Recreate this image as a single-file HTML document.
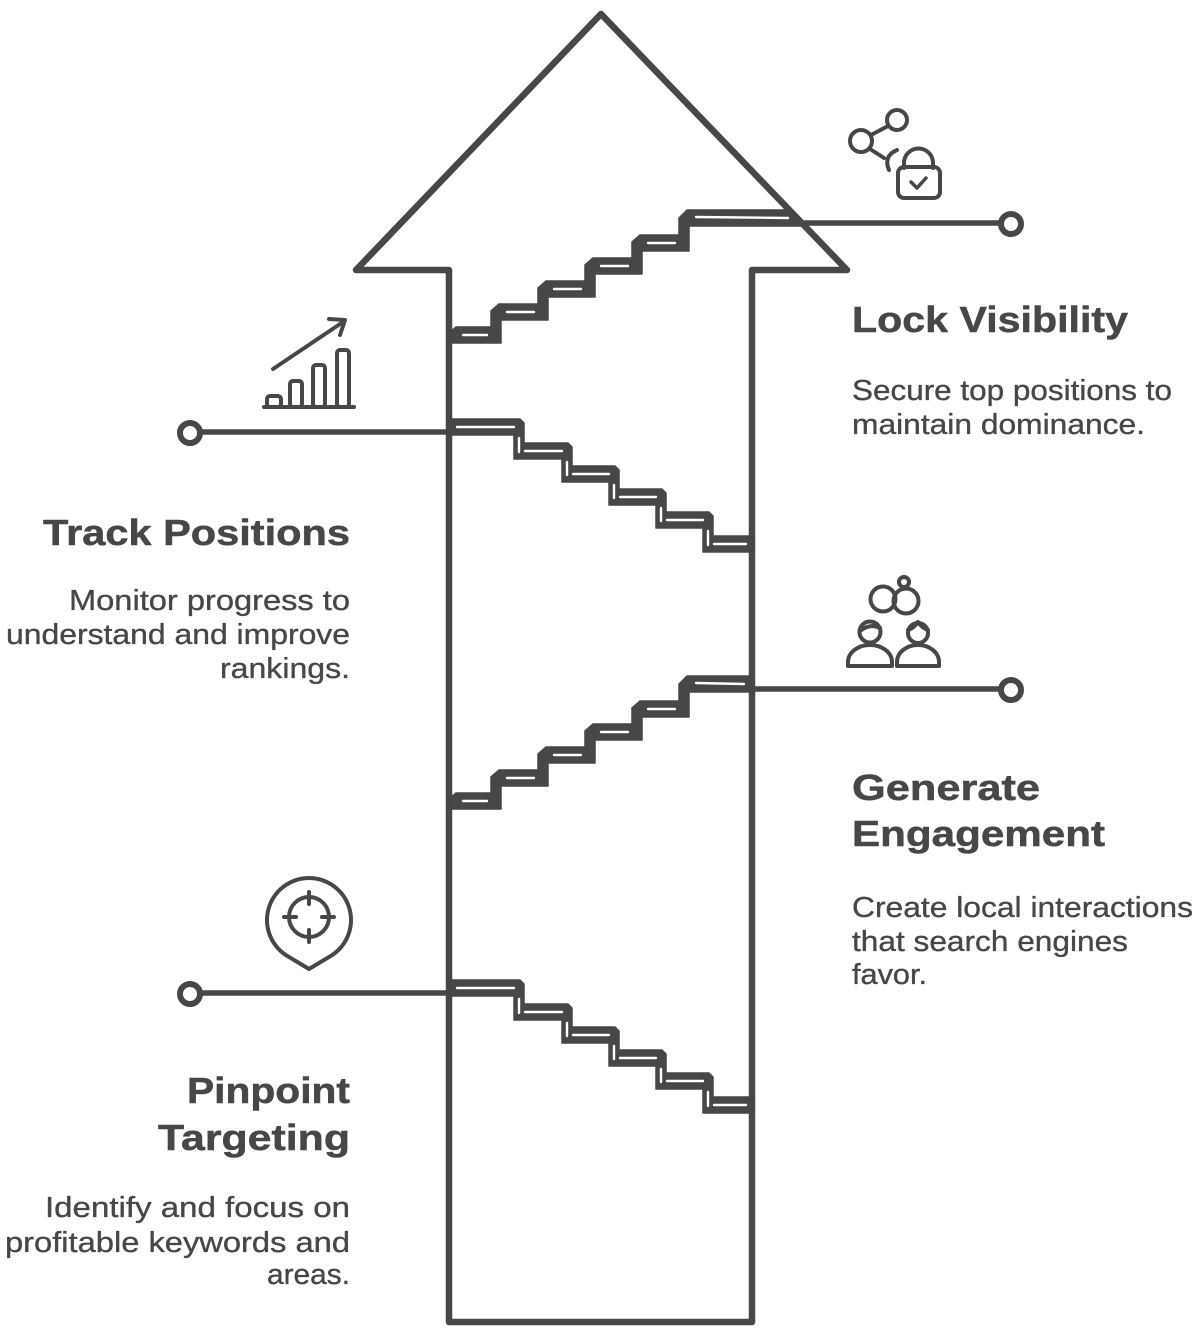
<!DOCTYPE html>
<html>
<head>
<meta charset="utf-8">
<style>
  html, body { margin: 0; padding: 0; background: #ffffff; }
  body { width: 1200px; height: 1329px; overflow: hidden; }
  svg { display: block; }
  .t { font-family: "Liberation Sans", sans-serif; font-weight: bold; font-size: 36px; fill: #474747; stroke: #474747; stroke-width: 0.5px; }
  .b { font-family: "Liberation Sans", sans-serif; font-size: 29px; fill: #474747; stroke: #474747; stroke-width: 0.35px; }
</style>
</head>
<body>
<svg width="1200" height="1329" viewBox="0 0 1200 1329" xmlns="http://www.w3.org/2000/svg">
  <rect x="0" y="0" width="1200" height="1329" fill="#ffffff"/>

  <!-- Arrow outline -->
  <polygon points="449,1322 449,270 356,270 601,14 847,270 752,270 752,1322"
           fill="none" stroke="#474747" stroke-width="6.5" stroke-linejoin="round"/>

  <!-- Connectors -->
  <g stroke="#474747" stroke-width="5.5" stroke-linecap="round" fill="none">
    <line x1="700" y1="223" x2="1000" y2="223"/>
    <line x1="740" y1="689" x2="1000" y2="689"/>
    <line x1="201" y1="432" x2="470" y2="432"/>
    <line x1="201" y1="993" x2="470" y2="993"/>
  </g>
  <g stroke="#474747" stroke-width="6" fill="#ffffff">
    <circle cx="1011" cy="224" r="10"/>
    <circle cx="1011" cy="690" r="10"/>
    <circle cx="190" cy="433" r="10"/>
    <circle cx="190" cy="994" r="10"/>
  </g>

  <!-- Stair set 1 (ascending, top) -->
  <g>
    <polygon fill="#474747" stroke="#474747" stroke-width="1.5" stroke-linejoin="round"
      points="449,333 456,327 491,327 491,311 499,304 538,304 538,288 546,281 585,281 585,265 593,258 632,258 632,242 640,235 679,235 679,218 687,210 790,210 806,226 689,226 689,251 642,251 642,274 595,274 595,297 548,297 548,320 501,320 501,343 449,343"/>
    <g stroke="#ffffff" stroke-width="2.4" stroke-linecap="round">
      <line x1="463" y1="335" x2="487" y2="335"/>
      <line x1="507" y1="312" x2="534" y2="312"/>
      <line x1="554" y1="289" x2="581" y2="289"/>
      <line x1="601" y1="266" x2="628" y2="266"/>
      <line x1="648" y1="243" x2="675" y2="243"/>
      <line x1="696" y1="217" x2="788" y2="218"/>
    </g>
  </g>

  <!-- Stair set 3 (ascending, middle) -->
  <g transform="translate(0,466)">
    <polygon fill="#474747" stroke="#474747" stroke-width="1.5" stroke-linejoin="round"
      points="449,333 456,327 491,327 491,311 499,304 538,304 538,288 546,281 585,281 585,265 593,258 632,258 632,242 640,235 679,235 679,218 687,210 752,210 752,226 689,226 689,251 642,251 642,274 595,274 595,297 548,297 548,320 501,320 501,343 449,343"/>
    <g stroke="#ffffff" stroke-width="2.4" stroke-linecap="round">
      <line x1="463" y1="335" x2="487" y2="335"/>
      <line x1="507" y1="312" x2="534" y2="312"/>
      <line x1="554" y1="289" x2="581" y2="289"/>
      <line x1="601" y1="266" x2="628" y2="266"/>
      <line x1="648" y1="243" x2="675" y2="243"/>
      <line x1="696" y1="217" x2="744" y2="218"/>
    </g>
  </g>

  <!-- Stair set 2 (descending) -->
  <g>
    <polygon fill="#474747" stroke="#474747" stroke-width="1.5" stroke-linejoin="round"
      points="449,419 520,419 524,423 524,443 568,443 572,447 572,466 615,466 619,470 619,489 662,489 666,493 666,512 709,512 713,516 713,536 752,536 752,552 703,552 703,528 656,528 656,505 609,505 609,482 562,482 562,459 514,459 514,435 449,435"/>
    <g stroke="#ffffff" stroke-width="2.4" stroke-linecap="round">
      <line x1="457" y1="427" x2="514" y2="427"/>
      <line x1="525" y1="451" x2="562" y2="451"/>
      <line x1="573" y1="474" x2="609" y2="474"/>
      <line x1="620" y1="497" x2="656" y2="497"/>
      <line x1="667" y1="520" x2="703" y2="520"/>
      <line x1="714" y1="544" x2="746" y2="544"/>
      <line x1="519" y1="438" x2="519" y2="452"/>
      <line x1="567" y1="462" x2="567" y2="475"/>
      <line x1="614" y1="485" x2="614" y2="498"/>
      <line x1="661" y1="508" x2="661" y2="521"/>
      <line x1="708" y1="531" x2="708" y2="545"/>
    </g>
  </g>

  <!-- Stair set 4 (descending, bottom) -->
  <g transform="translate(0,561)">
    <polygon fill="#474747" stroke="#474747" stroke-width="1.5" stroke-linejoin="round"
      points="449,419 520,419 524,423 524,443 568,443 572,447 572,466 615,466 619,470 619,489 662,489 666,493 666,512 709,512 713,516 713,536 752,536 752,552 703,552 703,528 656,528 656,505 609,505 609,482 562,482 562,459 514,459 514,435 449,435"/>
    <g stroke="#ffffff" stroke-width="2.4" stroke-linecap="round">
      <line x1="457" y1="427" x2="514" y2="427"/>
      <line x1="525" y1="451" x2="562" y2="451"/>
      <line x1="573" y1="474" x2="609" y2="474"/>
      <line x1="620" y1="497" x2="656" y2="497"/>
      <line x1="667" y1="520" x2="703" y2="520"/>
      <line x1="714" y1="544" x2="746" y2="544"/>
      <line x1="519" y1="438" x2="519" y2="452"/>
      <line x1="567" y1="462" x2="567" y2="475"/>
      <line x1="614" y1="485" x2="614" y2="498"/>
      <line x1="661" y1="508" x2="661" y2="521"/>
      <line x1="708" y1="531" x2="708" y2="545"/>
    </g>
  </g>

  <!-- Icons -->
  <g fill="none" stroke="#474747" stroke-width="4" stroke-linecap="round" stroke-linejoin="round">
    <!-- share + lock -->
    <circle cx="897" cy="120" r="10"/>
    <circle cx="861" cy="141" r="11"/>
    <line x1="871" y1="135" x2="888" y2="126"/>
    <line x1="870" y1="149" x2="884" y2="158"/>
    <path d="M 897 150 Q 883 156 889 170"/>
    <path d="M 904 168 L 904 163 A 14.5 14.5 0 0 1 933 163 L 933 168"/>
    <rect x="898" y="167" width="42" height="31" rx="6"/>
    <path d="M 911 182 L 917 188 L 926 178" stroke-width="3.5"/>

    <!-- chart -->
    <line x1="264" y1="407" x2="354" y2="407"/>
    <rect x="267" y="396" width="14" height="11" rx="3"/>
    <rect x="290" y="381" width="12" height="26" rx="3"/>
    <rect x="313" y="365" width="12" height="42" rx="3"/>
    <rect x="337" y="350" width="12" height="57" rx="3"/>
    <line x1="273" y1="369" x2="343" y2="322"/>
    <path d="M 329 319 L 345 320 L 340 335"/>

    <!-- rings + people -->
    <circle cx="883" cy="599" r="12.5"/>
    <circle cx="906" cy="601" r="12.5"/>
    <circle cx="904" cy="582" r="5"/>
    <circle cx="870" cy="632" r="10.5"/>
    <path d="M 860 631 Q 870 623 880 628"/>
    <path d="M 848 666 L 848 662 A 22 17 0 0 1 892 662 L 892 666 Z"/>
    <circle cx="918" cy="633" r="10"/>
    <path d="M 908 630 Q 914 628 918 622 Q 922 628 928 630"/>
    <path d="M 897 666 L 897 662 A 21 17 0 0 1 939 662 L 939 666 Z"/>

    <!-- pin target -->
    <path d="M 309 969 L 286.2 955.3 A 42 42 0 1 1 331.8 955.3 Z"/>
    <circle cx="309" cy="917" r="20"/>
    <line x1="309" y1="892" x2="309" y2="904"/>
    <line x1="309" y1="930" x2="309" y2="942"/>
    <line x1="284" y1="917" x2="296" y2="917"/>
    <line x1="322" y1="917" x2="334" y2="917"/>
  </g>

  <!-- Text: right side -->
  <text class="t" x="852" y="332" textLength="276" lengthAdjust="spacingAndGlyphs">Lock Visibility</text>
  <text class="b" x="852" y="400" textLength="320" lengthAdjust="spacingAndGlyphs">Secure top positions to</text>
  <text class="b" x="852" y="434" textLength="293" lengthAdjust="spacingAndGlyphs">maintain dominance.</text>

  <text class="t" x="852" y="800" textLength="188" lengthAdjust="spacingAndGlyphs">Generate</text>
  <text class="t" x="852" y="846" textLength="253" lengthAdjust="spacingAndGlyphs">Engagement</text>
  <text class="b" x="852" y="917" textLength="341" lengthAdjust="spacingAndGlyphs">Create local interactions</text>
  <text class="b" x="852" y="951" textLength="276" lengthAdjust="spacingAndGlyphs">that search engines</text>
  <text class="b" x="852" y="984" textLength="75" lengthAdjust="spacingAndGlyphs">favor.</text>

  <!-- Text: left side -->
  <text class="t" x="43" y="545" textLength="307" lengthAdjust="spacingAndGlyphs">Track Positions</text>
  <text class="b" x="69" y="610" textLength="281" lengthAdjust="spacingAndGlyphs">Monitor progress to</text>
  <text class="b" x="6" y="644" textLength="344" lengthAdjust="spacingAndGlyphs">understand and improve</text>
  <text class="b" x="220" y="678" textLength="130" lengthAdjust="spacingAndGlyphs">rankings.</text>

  <text class="t" x="187" y="1103" textLength="163" lengthAdjust="spacingAndGlyphs">Pinpoint</text>
  <text class="t" x="158" y="1150" textLength="192" lengthAdjust="spacingAndGlyphs">Targeting</text>
  <text class="b" x="45" y="1217" textLength="305" lengthAdjust="spacingAndGlyphs">Identify and focus on</text>
  <text class="b" x="5" y="1252" textLength="345" lengthAdjust="spacingAndGlyphs">profitable keywords and</text>
  <text class="b" x="267" y="1284" textLength="83" lengthAdjust="spacingAndGlyphs">areas.</text>
</svg>
</body>
</html>
